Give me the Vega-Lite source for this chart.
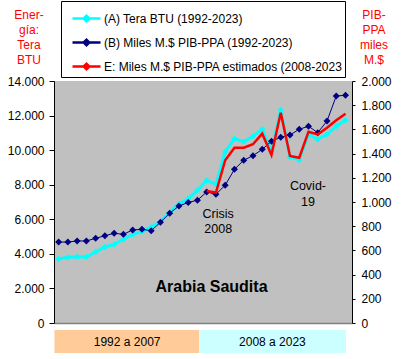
{
  "$schema": "https://vega.github.io/schema/vega-lite/v6.json",
  "padding": {"left": 7, "top": 0, "right": 5, "bottom": 5},
  "background": "white",
  "config": {
    "font": "Liberation Sans",
    "locale": {"number": {"decimal": ",", "thousands": ".", "grouping": [3], "currency": ["", " $"]}},
    "view": {"stroke": null},
    "axis": {"labelFont": "Liberation Sans", "labelFontSize": 12, "labelColor": "black", "domainColor": "black", "tickColor": "black", "grid": false},
    "legend": {"labelFont": "Liberation Sans"}
  },
  "datasets": {
    "energia": [
      {"year": 1992, "series": "(A) Tera BTU (1992-2023)", "value": 3702},
      {"year": 1993, "series": "(A) Tera BTU (1992-2023)", "value": 3800},
      {"year": 1994, "series": "(A) Tera BTU (1992-2023)", "value": 3836},
      {"year": 1995, "series": "(A) Tera BTU (1992-2023)", "value": 3818},
      {"year": 1996, "series": "(A) Tera BTU (1992-2023)", "value": 4107},
      {"year": 1997, "series": "(A) Tera BTU (1992-2023)", "value": 4397},
      {"year": 1998, "series": "(A) Tera BTU (1992-2023)", "value": 4550},
      {"year": 1999, "series": "(A) Tera BTU (1992-2023)", "value": 4842},
      {"year": 2000, "series": "(A) Tera BTU (1992-2023)", "value": 5131},
      {"year": 2001, "series": "(A) Tera BTU (1992-2023)", "value": 5282},
      {"year": 2002, "series": "(A) Tera BTU (1992-2023)", "value": 5550},
      {"year": 2003, "series": "(A) Tera BTU (1992-2023)", "value": 5850},
      {"year": 2004, "series": "(A) Tera BTU (1992-2023)", "value": 6381},
      {"year": 2005, "series": "(A) Tera BTU (1992-2023)", "value": 6884},
      {"year": 2006, "series": "(A) Tera BTU (1992-2023)", "value": 7191},
      {"year": 2007, "series": "(A) Tera BTU (1992-2023)", "value": 7677},
      {"year": 2008, "series": "(A) Tera BTU (1992-2023)", "value": 8255},
      {"year": 2009, "series": "(A) Tera BTU (1992-2023)", "value": 8024},
      {"year": 2010, "series": "(A) Tera BTU (1992-2023)", "value": 9892},
      {"year": 2011, "series": "(A) Tera BTU (1992-2023)", "value": 10662},
      {"year": 2012, "series": "(A) Tera BTU (1992-2023)", "value": 10488},
      {"year": 2013, "series": "(A) Tera BTU (1992-2023)", "value": 10800},
      {"year": 2014, "series": "(A) Tera BTU (1992-2023)", "value": 11206},
      {"year": 2015, "series": "(A) Tera BTU (1992-2023)", "value": 9950},
      {"year": 2016, "series": "(A) Tera BTU (1992-2023)", "value": 12322},
      {"year": 2017, "series": "(A) Tera BTU (1992-2023)", "value": 9603},
      {"year": 2018, "series": "(A) Tera BTU (1992-2023)", "value": 9430},
      {"year": 2019, "series": "(A) Tera BTU (1992-2023)", "value": 10916},
      {"year": 2020, "series": "(A) Tera BTU (1992-2023)", "value": 10627},
      {"year": 2021, "series": "(A) Tera BTU (1992-2023)", "value": 10916},
      {"year": 2022, "series": "(A) Tera BTU (1992-2023)", "value": 11396},
      {"year": 2023, "series": "(A) Tera BTU (1992-2023)", "value": 11726}
    ],
    "pib": [
      {"year": 1992, "series": "(B) Miles M.$ PIB-PPA (1992-2023)", "value": 669},
      {"year": 1993, "series": "(B) Miles M.$ PIB-PPA (1992-2023)", "value": 669},
      {"year": 1994, "series": "(B) Miles M.$ PIB-PPA (1992-2023)", "value": 678},
      {"year": 1995, "series": "(B) Miles M.$ PIB-PPA (1992-2023)", "value": 678},
      {"year": 1996, "series": "(B) Miles M.$ PIB-PPA (1992-2023)", "value": 700},
      {"year": 1997, "series": "(B) Miles M.$ PIB-PPA (1992-2023)", "value": 721},
      {"year": 1998, "series": "(B) Miles M.$ PIB-PPA (1992-2023)", "value": 741},
      {"year": 1999, "series": "(B) Miles M.$ PIB-PPA (1992-2023)", "value": 733},
      {"year": 2000, "series": "(B) Miles M.$ PIB-PPA (1992-2023)", "value": 769},
      {"year": 2001, "series": "(B) Miles M.$ PIB-PPA (1992-2023)", "value": 774},
      {"year": 2002, "series": "(B) Miles M.$ PIB-PPA (1992-2023)", "value": 763},
      {"year": 2003, "series": "(B) Miles M.$ PIB-PPA (1992-2023)", "value": 832},
      {"year": 2004, "series": "(B) Miles M.$ PIB-PPA (1992-2023)", "value": 907},
      {"year": 2005, "series": "(B) Miles M.$ PIB-PPA (1992-2023)", "value": 967},
      {"year": 2006, "series": "(B) Miles M.$ PIB-PPA (1992-2023)", "value": 996},
      {"year": 2007, "series": "(B) Miles M.$ PIB-PPA (1992-2023)", "value": 1015},
      {"year": 2008, "series": "(B) Miles M.$ PIB-PPA (1992-2023)", "value": 1083},
      {"year": 2009, "series": "(B) Miles M.$ PIB-PPA (1992-2023)", "value": 1064},
      {"year": 2010, "series": "(B) Miles M.$ PIB-PPA (1992-2023)", "value": 1139},
      {"year": 2011, "series": "(B) Miles M.$ PIB-PPA (1992-2023)", "value": 1270},
      {"year": 2012, "series": "(B) Miles M.$ PIB-PPA (1992-2023)", "value": 1345},
      {"year": 2013, "series": "(B) Miles M.$ PIB-PPA (1992-2023)", "value": 1383},
      {"year": 2014, "series": "(B) Miles M.$ PIB-PPA (1992-2023)", "value": 1435},
      {"year": 2015, "series": "(B) Miles M.$ PIB-PPA (1992-2023)", "value": 1502},
      {"year": 2016, "series": "(B) Miles M.$ PIB-PPA (1992-2023)", "value": 1535},
      {"year": 2017, "series": "(B) Miles M.$ PIB-PPA (1992-2023)", "value": 1554},
      {"year": 2018, "series": "(B) Miles M.$ PIB-PPA (1992-2023)", "value": 1601},
      {"year": 2019, "series": "(B) Miles M.$ PIB-PPA (1992-2023)", "value": 1626},
      {"year": 2020, "series": "(B) Miles M.$ PIB-PPA (1992-2023)", "value": 1573},
      {"year": 2021, "series": "(B) Miles M.$ PIB-PPA (1992-2023)", "value": 1669},
      {"year": 2022, "series": "(B) Miles M.$ PIB-PPA (1992-2023)", "value": 1876},
      {"year": 2023, "series": "(B) Miles M.$ PIB-PPA (1992-2023)", "value": 1882},
      {"year": 2008, "series": "E: Miles M.$ PIB-PPA estimados (2008-2023", "value": 1091},
      {"year": 2009, "series": "E: Miles M.$ PIB-PPA estimados (2008-2023", "value": 1078},
      {"year": 2010, "series": "E: Miles M.$ PIB-PPA estimados (2008-2023", "value": 1345},
      {"year": 2011, "series": "E: Miles M.$ PIB-PPA estimados (2008-2023", "value": 1449},
      {"year": 2012, "series": "E: Miles M.$ PIB-PPA estimados (2008-2023", "value": 1449},
      {"year": 2013, "series": "E: Miles M.$ PIB-PPA estimados (2008-2023", "value": 1477},
      {"year": 2014, "series": "E: Miles M.$ PIB-PPA estimados (2008-2023", "value": 1565},
      {"year": 2015, "series": "E: Miles M.$ PIB-PPA estimados (2008-2023", "value": 1388},
      {"year": 2016, "series": "E: Miles M.$ PIB-PPA estimados (2008-2023", "value": 1738},
      {"year": 2017, "series": "E: Miles M.$ PIB-PPA estimados (2008-2023", "value": 1380},
      {"year": 2018, "series": "E: Miles M.$ PIB-PPA estimados (2008-2023", "value": 1366},
      {"year": 2019, "series": "E: Miles M.$ PIB-PPA estimados (2008-2023", "value": 1581},
      {"year": 2020, "series": "E: Miles M.$ PIB-PPA estimados (2008-2023", "value": 1559},
      {"year": 2021, "series": "E: Miles M.$ PIB-PPA estimados (2008-2023", "value": 1614},
      {"year": 2022, "series": "E: Miles M.$ PIB-PPA estimados (2008-2023", "value": 1675},
      {"year": 2023, "series": "E: Miles M.$ PIB-PPA estimados (2008-2023", "value": 1730}
    ],
    "notes": [
      {"year": 2009.24, "value": 6306, "label": "Crisis\n2008"},
      {"year": 2018.94, "value": 7925, "label": "Covid-\n19"}
    ],
    "pais": [
      {"year": 2008.52, "value": 2100, "label": "Arabia Saudita"}
    ],
    "bands": [
      {"start": 1991.55, "end": 2007.2, "mid": 1999.4, "label": "1992 a 2007"},
      {"start": 2007.2, "end": 2023.05, "mid": 2015.1, "label": "2008 a 2023"}
    ]
  },
  "spacing": 1,
  "resolve": {"scale": {"color": "independent", "x": "independent"}, "legend": {"color": "independent"}},
  "vconcat": [
    {
      "width": 298,
      "height": 242,
      "view": {"fill": "#C0C0C0", "stroke": null},
      "encoding": {
        "x": {"field": "year", "type": "quantitative", "scale": {"domain": [1991.5, 2023.7], "nice": false, "zero": false},
              "axis": {"labels": false, "ticks": false, "title": null, "domainColor": "#808080", "domainWidth": 1.5}}
      },
      "layer": [
        {
          "encoding": {
            "y": {"field": "value", "type": "quantitative", "scale": {"domain": [0, 14000], "nice": false},
                  "axis": {"orient": "left", "values": [0, 2000, 4000, 6000, 8000, 10000, 12000, 14000], "format": ",.0f",
                           "title": ["Ener-", "gía:", "Tera", "BTU"], "titleColor": "#FF0000", "titleFontSize": 12, "titleFontWeight": "normal",
                           "titleAngle": 0, "titleAlign": "center", "titleBaseline": "top", "titleX": -25.5, "titleY": -72, "titleLineHeight": 15,
                           "tickSize": 5, "labelPadding": 5}}
          },
          "layer": [
            {
              "data": {"name": "energia"},
              "mark": {"type": "line", "strokeWidth": 3},
              "encoding": {
                "color": {"field": "series", "type": "nominal",
                  "scale": {"domain": ["(A) Tera BTU (1992-2023)", "(B) Miles M.$ PIB-PPA (1992-2023)", "E: Miles M.$ PIB-PPA estimados (2008-2023"], "range": ["#00FFFF", "#000080", "#FF0000"]},
                  "legend": {"orient": "none", "legendX": 7, "legendY": -80, "title": null, "strokeColor": "black", "fillColor": "white", "padding": 2,
                             "labelFontSize": 12, "labelColor": "black", "labelOffset": 2, "labelLimit": 400, "rowPadding": -8, "symbolOffset": 8,
                             "symbolStrokeWidth": 2.5, "symbolType": "M-1,0L1,0M-0.2,0L0,-0.2L0.2,0L0,0.2Z", "symbolSize": 784}
                }
              }
            },
            {
              "data": {"name": "energia"},
              "mark": {"type": "point", "shape": "diamond", "filled": true, "size": 40, "opacity": 1},
              "encoding": {
                "color": {"field": "series", "type": "nominal",
                  "scale": {"domain": ["(A) Tera BTU (1992-2023)", "(B) Miles M.$ PIB-PPA (1992-2023)", "E: Miles M.$ PIB-PPA estimados (2008-2023"], "range": ["#00FFFF", "#000080", "#FF0000"]}}
              }
            },
            {
              "data": {"name": "notes"},
              "mark": {"type": "text", "fontSize": 12.5, "lineBreak": "\n", "lineHeight": 15.5, "baseline": "middle", "align": "center", "color": "black"},
              "encoding": {"text": {"field": "label"}}
            },
            {
              "data": {"name": "pais"},
              "mark": {"type": "text", "fontSize": 16, "fontWeight": "bold", "baseline": "middle", "align": "center", "color": "black"},
              "encoding": {"text": {"field": "label"}}
            }
          ]
        },
        {
          "data": {"name": "pib"},
          "encoding": {
            "y": {"field": "value", "type": "quantitative", "scale": {"domain": [0, 2000], "nice": false},
                  "axis": {"orient": "right", "values": [0, 200, 400, 600, 800, 1000, 1200, 1400, 1600, 1800, 2000], "format": ",.0f",
                           "title": ["PIB-", "PPA", "miles", "M.$"], "titleColor": "#FF0000", "titleFontSize": 12, "titleFontWeight": "normal",
                           "titleAngle": 0, "titleAlign": "center", "titleBaseline": "top", "titleX": 21.5, "titleY": -72, "titleLineHeight": 15,
                           "tickSize": 3, "labelPadding": 6}},
            "color": {"field": "series", "type": "nominal",
              "scale": {"domain": ["(A) Tera BTU (1992-2023)", "(B) Miles M.$ PIB-PPA (1992-2023)", "E: Miles M.$ PIB-PPA estimados (2008-2023"], "range": ["#00FFFF", "#000080", "#FF0000"]}}
          },
          "layer": [
            {
              "transform": [{"filter": "indexof(datum.series, '(B)') === 0"}],
              "mark": {"type": "line", "strokeWidth": 1}
            },
            {
              "transform": [{"filter": "indexof(datum.series, '(B)') === 0"}],
              "mark": {"type": "point", "shape": "diamond", "filled": true, "size": 49, "opacity": 1}
            },
            {
              "transform": [{"filter": "indexof(datum.series, 'E:') === 0"}],
              "mark": {"type": "line", "strokeWidth": 2.5}
            }
          ]
        }
      ],
      "resolve": {"scale": {"y": "independent"}}
    },
    {
      "width": 298,
      "height": 23,
      "view": {"stroke": null},
      "data": {"name": "bands"},
      "layer": [
        {
          "mark": {"type": "rect"},
          "encoding": {
            "x": {"field": "start", "type": "quantitative", "scale": {"domain": [1991.5, 2023.7], "nice": false, "zero": false}, "axis": null},
            "x2": {"field": "end"},
            "color": {"field": "label", "type": "nominal", "scale": {"domain": ["1992 a 2007", "2008 a 2023"], "range": ["#FFCC99", "#CCFFFF"]}, "legend": null}
          }
        },
        {
          "mark": {"type": "text", "fontSize": 12, "color": "black", "baseline": "middle", "align": "center"},
          "encoding": {
            "x": {"field": "mid", "type": "quantitative", "scale": {"domain": [1991.5, 2023.7], "nice": false, "zero": false}, "axis": null},
            "text": {"field": "label"}
          }
        }
      ]
    }
  ]
}
